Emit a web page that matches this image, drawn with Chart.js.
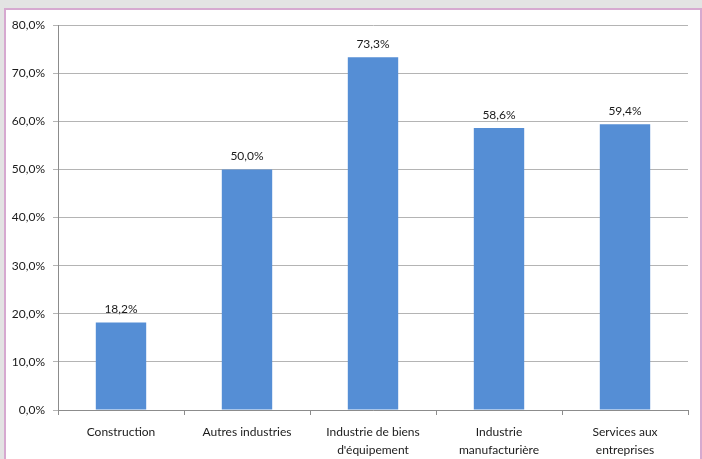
<!DOCTYPE html>
<html>
<head>
  <meta charset="utf-8">
  <script src="https://cdn.jsdelivr.net/npm/chart.js@4"></script>
  <style>
    html, body { margin: 0; padding: 0; background: #e3e3e3; }
    #frame { position: absolute; left: 4px; top: 8px; width: 694px; height: 460px;
             background: #fff; border: 2px solid #d6a9d0; }
    #wrap { position: absolute; left: 0; top: 0; width: 702px; height: 459px; }
  </style>
</head>
<body>
  <div id="frame"></div>
  <div id="wrap"><canvas id="myChart" width="702" height="459"></canvas></div>
  <script>
    var categories = ['Construction', 'Autres industries', ['Industrie de biens', "d'équipement"], ['Industrie', 'manufacturière'], ['Services aux', 'entreprises']];
    var values = [18.2, 50.0, 73.3, 58.6, 59.4];
    var yTicks = [0, 10, 20, 30, 40, 50, 60, 70, 80];

    function frPct(v) { return v.toFixed(1).replace('.', ',') + '%'; }

    // write the value above each bar
    var barLabels = {
      id: 'barLabels',
      afterDatasetsDraw: function(chart) {
        var ctx = chart.ctx;
        var meta = chart.getDatasetMeta(0);
        ctx.save();
        ctx.font = '12px Lato, "Open Sans", sans-serif';
        ctx.fillStyle = '#1a1a1a';
        ctx.textAlign = 'center';
        ctx.textBaseline = 'bottom';
        meta.data.forEach(function(bar, i) {
          ctx.fillText(frPct(values[i]), bar.x, bar.y - 7);
        });
        ctx.restore();
      }
    };

    var ctx = document.getElementById('myChart').getContext('2d');
    var myChart = new Chart(ctx, {
      type: 'bar',
      data: {
        labels: categories,
        datasets: [{
          data: values,
          backgroundColor: '#558ed5',
          barPercentage: 0.4,
          categoryPercentage: 1.0
        }]
      },
      plugins: [barLabels],
      options: {
        responsive: false,
        animation: false,
        layout: { padding: { left: 0, right: 14, top: 25, bottom: 0 } },
        plugins: { legend: { display: false }, tooltip: { enabled: false } },
        scales: {
          x: {
            grid: { offset: true, drawOnChartArea: false, tickLength: 5, color: '#8c8c8c' },
            border: { color: '#8c8c8c' },
            ticks: {
              padding: 8, maxRotation: 0, autoSkip: false, color: '#1a1a1a',
              font: { family: 'Lato, "Open Sans", sans-serif', size: 12, lineHeight: 1.5 }
            },
            afterFit: function(s) { s.height = 49; }
          },
          y: {
            min: 0, max: 80,
            afterBuildTicks: function(s) { s.ticks = yTicks.map(function(v) { return { value: v }; }); },
            grid: { color: '#b4b4b4', tickLength: 5 },
            border: { color: '#8c8c8c' },
            ticks: {
              padding: 8, color: '#1a1a1a',
              font: { family: 'Lato, "Open Sans", sans-serif', size: 12 },
              callback: function(v) { return frPct(v); }
            },
            afterFit: function(s) { s.width = 58; }
          }
        }
      }
    });
  </script>
</body>
</html>
